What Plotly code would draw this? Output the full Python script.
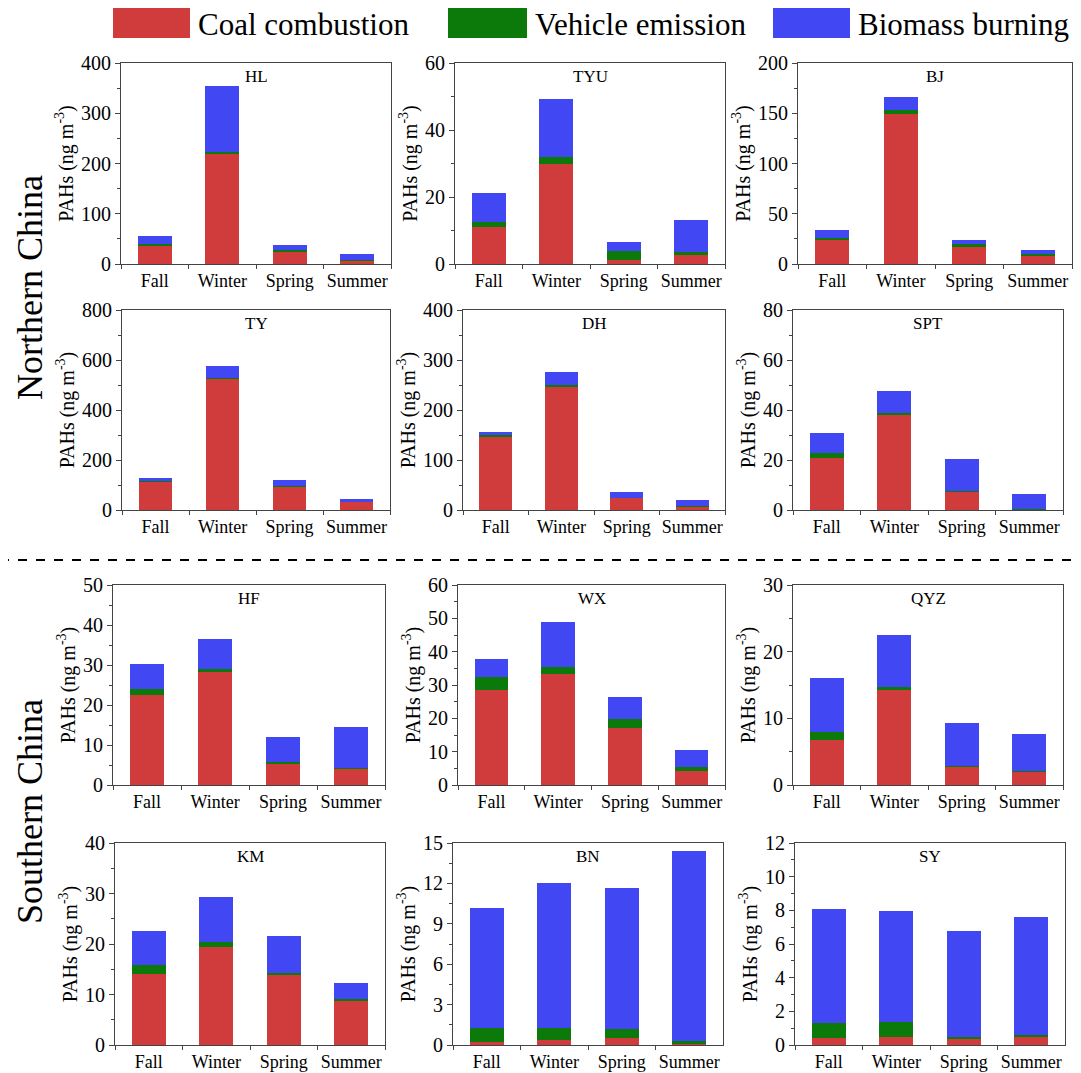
import plotly.graph_objects as go

W, H = 1081, 1073
OFF = 8  # page body margin in the browser

seasons = ["Fall", "Winter", "Spring", "Summer"]
sites = ["HL", "TYU", "BJ", "TY", "DH", "SPT", "HF", "WX", "QYZ", "KM", "BN", "SY"]

# stacked contributions (ng m-3): coal, vehicle, biomass
coal_HL = [37, 220, 23, 7]
veh_HL = [2, 3, 4, 1]
bio_HL = [17, 132, 11, 11]

coal_TYU = [11, 30, 1.2, 2.6]
veh_TYU = [1.5, 2, 2.6, 0.9]
bio_TYU = [8.7, 17.2, 2.9, 9.7]

coal_BJ = [24, 149, 17, 8]
veh_BJ = [2, 4, 3, 1.5]
bio_BJ = [8, 13, 4, 4.5]

coal_TY = [115, 527, 95, 32]
veh_TY = [2, 3, 2, 2]
bio_TY = [13, 48, 25, 12]

coal_DH = [147, 247, 24, 7]
veh_DH = [4, 3, 1, 1]
bio_DH = [5, 26, 12, 12]

coal_SPT = [21, 38, 7.5, 0.3]
veh_SPT = [2, 1, 0.3, 0.1]
bio_SPT = [8, 8.5, 12.7, 6.1]

coal_HF = [22.5, 28.3, 5.3, 4]
veh_HF = [1.5, 0.8, 0.5, 0.3]
bio_HF = [6.3, 7.3, 6.2, 10.2]

coal_WX = [28.6, 33.2, 17, 4.3]
veh_WX = [3.7, 2.2, 2.8, 1.2]
bio_WX = [5.4, 13.4, 6.6, 5]

coal_QYZ = [6.7, 14.2, 2.7, 2]
veh_QYZ = [1.3, 0.5, 0.2, 0.1]
bio_QYZ = [8, 7.8, 6.4, 5.5]

coal_KM = [14, 19.5, 13.8, 8.8]
veh_KM = [1.9, 0.9, 0.5, 0.3]
bio_KM = [6.7, 9, 7.2, 3.2]

coal_BN = [0.25, 0.35, 0.5, 0.05]
veh_BN = [1.0, 0.9, 0.7, 0.25]
bio_BN = [8.95, 10.8, 10.45, 14.1]

coal_SY = [0.4, 0.45, 0.4, 0.5]
veh_SY = [0.9, 0.9, 0.1, 0.1]
bio_SY = [6.75, 6.6, 6.3, 7.0]

y_max = [400, 60, 200, 800, 400, 80, 50, 60, 30, 40, 15, 12]
y_dtick = [100, 20, 50, 200, 100, 20, 10, 10, 10, 10, 3, 2]

series_names = ["Coal combustion", "Vehicle emission", "Biomass burning"]
colors = ["#D03B3B", "#0B7A0B", "#4147F2"]

data = {
    "HL": (coal_HL, veh_HL, bio_HL), "TYU": (coal_TYU, veh_TYU, bio_TYU),
    "BJ": (coal_BJ, veh_BJ, bio_BJ), "TY": (coal_TY, veh_TY, bio_TY),
    "DH": (coal_DH, veh_DH, bio_DH), "SPT": (coal_SPT, veh_SPT, bio_SPT),
    "HF": (coal_HF, veh_HF, bio_HF), "WX": (coal_WX, veh_WX, bio_WX),
    "QYZ": (coal_QYZ, veh_QYZ, bio_QYZ), "KM": (coal_KM, veh_KM, bio_KM),
    "BN": (coal_BN, veh_BN, bio_BN), "SY": (coal_SY, veh_SY, bio_SY),
}

# panel boxes in screen pixels: left, right, top, bottom
boxes = [
    (121, 391, 63, 264), (455, 725, 63, 264), (798, 1072, 63, 264),
    (122, 390, 310, 510), (463, 725, 310, 510), (793, 1063, 310, 510),
    (113, 385, 585, 785), (458, 725, 585, 785), (793, 1063, 585, 785),
    (115, 385, 843, 1045), (453, 723, 843, 1045), (795, 1065, 843, 1045),
]


def px(x):
    return (x - OFF) / W


def py(y):
    return 1 - (y - OFF) / H


FONT = "Liberation Serif, Times New Roman, serif"
fig = go.Figure()
layout = {}
annotations = []
shapes = []

for i, site in enumerate(sites):
    n = i + 1
    xa = "x" if n == 1 else f"x{n}"
    ya = "y" if n == 1 else f"y{n}"
    for k in range(3):
        fig.add_trace(go.Bar(
            x=seasons, y=data[site][k], name=series_names[k],
            marker=dict(color=colors[k], line=dict(width=0)),
            xaxis=xa, yaxis=ya, width=0.5, showlegend=False,
        ))
    l, r, t, b = boxes[i]
    xkey = "xaxis" if n == 1 else f"xaxis{n}"
    ykey = "yaxis" if n == 1 else f"yaxis{n}"
    layout[xkey] = dict(
        domain=[px(l), min(px(r), 1)], anchor=ya, type="category",
        categoryorder="array", categoryarray=seasons, range=[-0.5, 3.5],
        showline=True, linecolor="#444", linewidth=1, mirror=True,
        ticks="outside", tickson="boundaries", ticklen=4, tickcolor="#444",
        tickangle=0, automargin=False,
        tickfont=dict(family=FONT, size=18, color="black"), showgrid=False,
        fixedrange=True,
    )
    layout[ykey] = dict(
        domain=[py(b), py(t)], anchor=xa, range=[0, y_max[i]],
        dtick=y_dtick[i], tick0=0, showline=True, linecolor="#444", linewidth=1,
        mirror=True, ticks="outside", ticklen=5, tickcolor="#444",
        minor=dict(ticks="outside", ticklen=3, dtick=y_dtick[i] / 2, tickcolor="#444"),
        tickfont=dict(family=FONT, size=20, color="black"), showgrid=False,
        zeroline=False, automargin=False,
        title=dict(text="PAHs (ng m<sup>-3</sup>)", standoff=2,
                   font=dict(family=FONT, size=20, color="black")),
        fixedrange=True,
    )
    annotations.append(dict(
        text=site, xref="paper", yref="paper", x=px((l + r) / 2),
        y=py(t + 2), xanchor="center", yanchor="top", showarrow=False,
        font=dict(family=FONT, size=17, color="black"),
    ))

# region labels
annotations.append(dict(text="Northern China", xref="paper", yref="paper",
                        x=px(30), y=py(288), textangle=-90, showarrow=False,
                        xanchor="center", yanchor="middle",
                        font=dict(family=FONT, size=36, color="black")))
annotations.append(dict(text="Southern China", xref="paper", yref="paper",
                        x=px(30), y=py(812), textangle=-90, showarrow=False,
                        xanchor="center", yanchor="middle",
                        font=dict(family=FONT, size=36, color="black")))

# dashed separator
shapes.append(dict(type="line", xref="paper", yref="paper", x0=px(0), x1=px(1081),
                   y0=py(560), y1=py(560),
                   line=dict(color="black", width=2, dash="dash")))

# legend (boxes + text)
leg_boxes = [(113, 190), (448, 527), (773, 850)]
for k, (x0, x1) in enumerate(leg_boxes):
    shapes.append(dict(type="rect", xref="paper", yref="paper",
                       x0=px(x0), x1=px(x1), y0=py(38), y1=py(8),
                       fillcolor=colors[k], line=dict(width=0)))
    annotations.append(dict(text=series_names[k], xref="paper", yref="paper",
                            x=px(x1 + 6), y=py(25), xanchor="left",
                            yanchor="middle", showarrow=False,
                            font=dict(family=FONT, size=31, color="black")))

fig.update_layout(
    width=W, height=H, autosize=False,
    margin=dict(l=0, r=0, t=0, b=0, autoexpand=False),
    paper_bgcolor="white", plot_bgcolor="white",
    barmode="stack", bargap=0.5, showlegend=False,
    annotations=annotations, shapes=shapes, **layout,
)

fig.write_html("out.html")
